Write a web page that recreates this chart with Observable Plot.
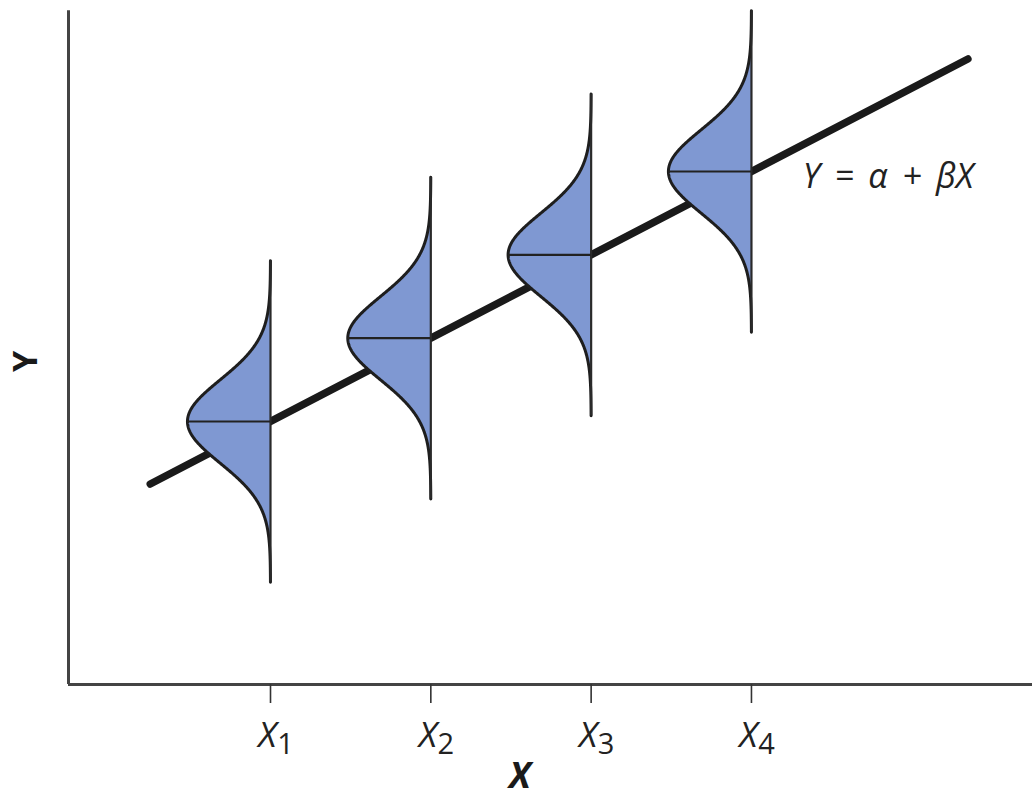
<!DOCTYPE html>
<html>
<head>
<meta charset="utf-8">
<script src="https://cdn.jsdelivr.net/npm/d3@7"></script>
<script src="https://cdn.jsdelivr.net/npm/@observablehq/plot@0.6"></script>
<style>
  html, body { margin: 0; padding: 0; background: #fff; }
  #chart svg { display: block; }
</style>
</head>
<body>
<div id="chart"></div>
<script>
// ---- data ----
const xPositions = [1, 2, 3, 4];            // X1..X4
const xSubscripts = ["1", "2", "3", "4"];
const means = [2, 3, 4, 5];                  // E[Y|X] = alpha + beta X
const sigma = 0.5;                           // spread of each conditional distribution
const halfSpan = 1.93;                       // vertical extent of each distribution (units)
const peakWidth = 0.518;                     // drawn width of density peak (x units)
const lineX = [0.25, 5.35];                  // regression line extent
const lineY = [1.25, 6.35];
const xDomain = [-0.26, 5.753];
const yDomain = [-1.156, 7.052];
const axisTop = 6.93;
const equation = "Y\u2009 =\u2009 α\u2009 +\u2009 βX";
const equationPos = {x: 4.32, y: 4.93};

// build density outlines
const curves = [];
xPositions.forEach((xc, i) => {
  const m = means[i];
  d3.range(-halfSpan, halfSpan + 1e-9, 0.01).forEach(dy => {
    const z = dy / sigma;
    curves.push({id: i, xc, y: m + dy, xd: xc - peakWidth * Math.exp(-z * z / 2)});
  });
});
const dists = xPositions.map((x, i) => ({x, mean: means[i], lo: means[i] - halfSpan, hi: means[i] + halfSpan, left: x - peakWidth, sub: xSubscripts[i]}));
const regLine = lineX.map((x, i) => ({x, y: lineY[i]}));

const font = "'Open Sans', 'DejaVu Sans', sans-serif";

const plot = Plot.plot({
  width: 1032,
  height: 798,
  marginLeft: 68,
  marginRight: 0,
  marginTop: 0,
  marginBottom: 114,
  style: {fontFamily: font, background: "#fff", overflow: "visible"},
  x: {domain: xDomain, axis: null},
  y: {domain: yDomain, axis: null},
  marks: [
    // axes lines
    Plot.ruleX([xDomain[0]], {y1: yDomain[0], y2: axisTop, stroke: "#444", strokeWidth: 3}),
    Plot.ruleY([yDomain[0]], {x1: xDomain[0], x2: xDomain[1], stroke: "#444", strokeWidth: 3}),
    Plot.axisX(xPositions, {tickSize: 19, tickFormat: () => "", stroke: "#333", strokeWidth: 1.6, label: null}),
    // regression line
    Plot.line(regLine, {x: "x", y: "y", stroke: "#1a1a1a", strokeWidth: 7.5}),
    // densities
    Plot.areaX(curves, {y: "y", x1: "xc", x2: "xd", z: "id", fill: "#7f98d2", fillOpacity: 1}),
    Plot.line(curves, {x: "xd", y: "y", z: "id", stroke: "#1e1e1e", strokeWidth: 3}),
    Plot.ruleX(dists, {x: "x", y1: "lo", y2: "hi", stroke: "#2a2a2a", strokeWidth: 2.2}),
    Plot.ruleY(dists, {y: "mean", x1: "left", x2: "x", stroke: "#222", strokeWidth: 2.2}),
    // tick labels
    Plot.text(dists, {x: "x", y: yDomain[0], text: () => "X", dy: 51, dx: -3, fontSize: 35, fontStyle: "italic", fill: "#222", textAnchor: "middle"}),
    Plot.text(dists, {x: "x", y: yDomain[0], text: "sub", dy: 60, dx: 15, fontSize: 29, fill: "#222", textAnchor: "middle"}),
    // axis titles
    Plot.text([0], {x: 2.555, y: yDomain[0], text: () => "X", dy: 92, fontSize: 36, fontWeight: "bold", fontStyle: "italic", fill: "#1a1a1a"}),
    Plot.text([0], {x: xDomain[0], y: 2.72, text: () => "Y", dx: -42, rotate: -90, fontSize: 34, fontWeight: "bold", fill: "#1a1a1a"}),
    // equation
    Plot.text([equationPos], {x: "x", y: "y", text: () => equation, textAnchor: "start", fontSize: 34, fontStyle: "italic", fill: "#222"})
  ]
});
document.getElementById("chart").appendChild(plot);
</script>
</body>
</html>
